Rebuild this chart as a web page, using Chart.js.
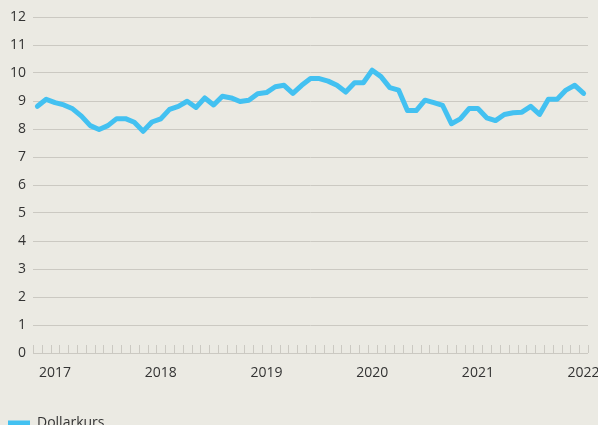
<!DOCTYPE html>
<html>
<head>
<meta charset="utf-8">
<script src="https://cdn.jsdelivr.net/npm/chart.js@4"></script>
<style>
  html, body { margin: 0; padding: 0; background: #ebeae3; overflow: hidden; }
  #wrap { width: 598px; height: 440px; }
</style>
</head>
<body>
<div id="wrap"><canvas id="chart" width="598" height="440"></canvas></div>
<script>
// månedlige punkter, nov 2016 - jan 2022
const months = [];
for (let y = 2016; y <= 2022; y++) {
  for (let m = 1; m <= 12; m++) {
    if ((y === 2016 && m < 11) || (y === 2022 && m > 1)) continue;
    months.push(y + "-" + String(m).padStart(2, "0"));
  }
}

const dollarkurs = [
  8.81, 9.06, 8.94, 8.86, 8.72, 8.46, 8.12, 7.98, 8.12, 8.37,
  8.37, 8.24, 7.92, 8.25, 8.36, 8.70, 8.81, 8.99, 8.77, 9.11,
  8.86, 9.17, 9.11, 8.98, 9.03, 9.26, 9.30, 9.51, 9.56, 9.27,
  9.56, 9.80, 9.80, 9.71, 9.56, 9.32, 9.65, 9.65, 10.10, 9.87,
  9.48, 9.39, 8.66, 8.66, 9.03, 8.94, 8.84, 8.19, 8.36, 8.73,
  8.73, 8.40, 8.30, 8.52, 8.58, 8.60, 8.81, 8.52, 9.06, 9.06,
  9.39, 9.56, 9.27
];

const yTicks = [0, 1, 2, 3, 4, 5, 6, 7, 8, 9, 10, 11, 12];

const lineColor = "#43c1f1";
const gridColor = "#cbc9c2";
const textColor = "#333333";

// små streker langs x-aksen, en per måned
const monthTicks = {
  id: "monthTicks",
  afterDatasetsDraw(chart) {
    const x = chart.scales.x;
    const bottom = chart.chartArea.bottom;
    const ctx = chart.ctx;
    ctx.save();
    ctx.strokeStyle = gridColor;
    ctx.lineWidth = 1;
    for (let i = 0; i <= months.length; i++) {
      const px = Math.round(x.getPixelForValue(i - 0.5)) + 0.5;
      ctx.beginPath();
      ctx.moveTo(px, bottom - 8);
      ctx.lineTo(px, bottom);
      ctx.stroke();
    }
    ctx.restore();
  }
};

Chart.defaults.font.family = "'Open Sans', 'Noto Sans', sans-serif";
Chart.defaults.font.size = 14;
Chart.defaults.color = textColor;

new Chart(document.getElementById("chart"), {
  type: "line",
  data: {
    labels: months,
    datasets: [{
      label: "Dollarkurs",
      data: dollarkurs,
      borderColor: lineColor,
      backgroundColor: lineColor,
      borderWidth: 5,
      borderCapStyle: "round",
      borderJoinStyle: "round",
      pointRadius: 0,
      tension: 0
    }]
  },
  options: {
    responsive: false,
    animation: false,
    layout: { padding: { top: 17, right: 0, left: 0, bottom: 0 } },
    plugins: {
      tooltip: { enabled: false },
      legend: {
        position: "bottom",
        align: "start",
        labels: {
          usePointStyle: true,
          pointStyle: "line",
          pointStyleWidth: 22,
          padding: 8,
          font: { size: 14 }
        }
      }
    },
    scales: {
      x: {
        offset: true,
        grid: { display: false, drawTicks: false },
        border: { display: false },
        afterFit: function (scale) {
          scale.height = 55;
          scale.paddingLeft = 0;
          scale.paddingRight = 10;
        },
        ticks: {
          autoSkip: false,
          maxRotation: 0,
          padding: 12,
          callback: function (v) {
            const lbl = months[v];
            return lbl.endsWith("-01") ? lbl.slice(0, 4) : "";
          }
        }
      },
      y: {
        min: 0,
        max: 12,
        afterBuildTicks: function (scale) {
          scale.ticks = yTicks.map(v => ({ value: v }));
        },
        afterFit: function (scale) { scale.width = 33; },
        grid: { color: gridColor, drawTicks: false },
        border: { display: false },
        ticks: { padding: 7 }
      }
    }
  },
  plugins: [monthTicks]
});
</script>
</body>
</html>
